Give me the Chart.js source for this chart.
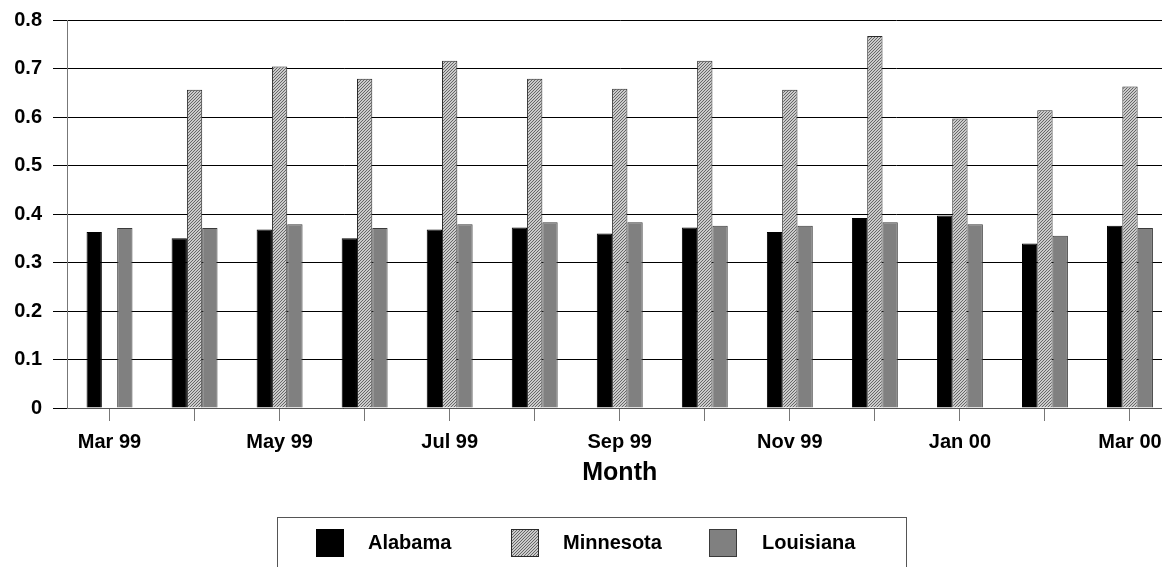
<!DOCTYPE html>
<html>
<head>
<meta charset="utf-8">
<script src="https://cdn.jsdelivr.net/npm/chart.js@4/dist/chart.umd.min.js"></script>
<style>
  html, body { margin: 0; padding: 0; background: #fff; overflow: hidden; }
  #wrap { width: 1176px; height: 567px; position: relative; }
</style>
</head>
<body>
<div id="wrap"><canvas id="chart"></canvas></div>
<script>
// data
const months = ["Mar 99", "Apr 99", "May 99", "Jun 99", "Jul 99", "Aug 99", "Sep 99",
                "Oct 99", "Nov 99", "Dec 99", "Jan 00", "Feb 00", "Mar 00"];
const tickLabels = ["Mar 99", "", "May 99", "", "Jul 99", "", "Sep 99",
                    "", "Nov 99", "", "Jan 00", "", "Mar 00"];
const seriesNames = ["Alabama", "Minnesota", "Louisiana"];
const alabama   = [0.363, 0.350, 0.368, 0.350, 0.368, 0.372, 0.360, 0.372, 0.363, 0.392, 0.397, 0.339, 0.376];
const minnesota = [null, 0.656, 0.704, 0.679, 0.716, 0.679, 0.658, 0.716, 0.656, 0.767, 0.597, 0.614, 0.663];
const louisiana = [0.371, 0.371, 0.379, 0.371, 0.379, 0.383, 0.383, 0.376, 0.376, 0.383, 0.379, 0.355, 0.371];
const yTicks = [0, 0.1, 0.2, 0.3, 0.4, 0.5, 0.6, 0.7, 0.8];

const FONT = "'Liberation Sans', Arial, Helvetica, sans-serif";

// fine diagonal hatch for Minnesota
function hatch() {
    const c = document.createElement("canvas");
    c.width = 3; c.height = 3;
    const g = c.getContext("2d");
    g.fillStyle = "#cbcbcb";
    g.fillRect(0, 0, 3, 3);
    g.fillStyle = "#666";
    g.fillRect(2, 0, 1, 1);
    g.fillRect(1, 1, 1, 1);
    g.fillRect(0, 2, 1, 1);
    return g.createPattern(c, "repeat");
}

// boxed legend under the axis title
const boxLegend = {
    id: "boxLegend",
    afterDraw(chart) {
        const ctx = chart.ctx;
        ctx.save();
        ctx.strokeStyle = "#555";
        ctx.lineWidth = 1;
        ctx.strokeRect(277.5, 517.5, 629, 80);
        const boxX = [316, 511, 709];
        const textX = [368, 563, 762];
        ctx.font = "bold 20px " + FONT;
        ctx.textBaseline = "middle";
        ctx.textAlign = "left";
        chart.data.datasets.forEach((ds, i) => {
            ctx.fillStyle = ds.backgroundColor;
            ctx.fillRect(boxX[i], 529, 28, 28);
            ctx.strokeStyle = ds.borderColor;
            ctx.strokeRect(boxX[i] + 0.5, 529.5, 27, 27);
            ctx.fillStyle = "#000";
            ctx.fillText(ds.label, textX[i], 543);
        });
        ctx.restore();
    }
};

const tickFont = { family: FONT, size: 20, weight: "bold" };

new Chart(document.getElementById("chart"), {
    type: "bar",
    data: {
        labels: months,
        datasets: [
            { label: seriesNames[0], data: alabama, backgroundColor: "#000", borderColor: "#000" },
            { label: seriesNames[1], data: minnesota, backgroundColor: hatch(), borderColor: "#2a2a2a" },
            { label: seriesNames[2], data: louisiana, backgroundColor: "#808080", borderColor: "#3a3a3a" }
        ].map(d => Object.assign(d, { borderWidth: 1, barPercentage: 1, categoryPercentage: 0.54 }))
    },
    options: {
        responsive: true,
        maintainAspectRatio: false,
        animation: false,
        layout: { padding: { top: 20, right: 3.5, bottom: 74, left: 0 } },
        plugins: {
            legend: { display: false },
            tooltip: { enabled: false }
        },
        scales: {
            x: {
                grid: { display: true, drawOnChartArea: false, offset: false, tickLength: 13, color: "#777" },
                border: { color: "#555" },
                ticks: {
                    autoSkip: false,
                    maxRotation: 0,
                    padding: 9,
                    color: "#000",
                    font: tickFont,
                    callback: (v, i) => tickLabels[i]
                },
                title: {
                    display: true,
                    text: "Month",
                    color: "#000",
                    font: { family: FONT, size: 25, weight: "bold" },
                    padding: { top: 0, bottom: 5 }
                },
                afterFit: s => { s.height = 85; s.paddingLeft = 0; s.paddingRight = 0; }
            },
            y: {
                min: 0,
                max: 0.8,
                afterBuildTicks: s => { s.ticks = yTicks.map(v => ({ value: v })); },
                grid: { color: "#000", tickLength: 14 },
                border: { color: "#777" },
                ticks: {
                    padding: 11,
                    color: "#000",
                    font: tickFont,
                    callback: v => String(+v.toFixed(1))
                },
                afterFit: s => { s.width = 67; s.paddingTop = 0; s.paddingBottom = 0; }
            }
        }
    },
    plugins: [boxLegend]
});
</script>
</body>
</html>
